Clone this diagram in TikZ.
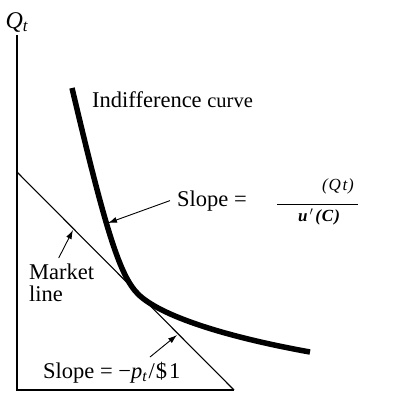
\documentclass[tikz,border=0pt]{standalone}
\usepackage{fontspec}
\setmainfont{Liberation Serif}
\usetikzlibrary{positioning,arrows.meta,calc}

\tikzset{
  axis/.style={line width=1.2pt},
  mline/.style={line width=1.1pt},
  icurve/.style={line width=5.5pt},
  pointer/.style={-{Latex[length=9pt,width=6pt]}, line width=0.9pt},
  lbl/.style={font=\fontsize{22.5}{22}\selectfont, inner sep=0pt},
  fracpart/.style={font=\fontsize{17}{19}\selectfont\itshape, inner sep=0pt},
}

\begin{document}
\begin{tikzpicture}[x=1pt, y=-1pt]
    \useasboundingbox (0,0) rectangle (406,392);
    %
    \node[coordinate] (O)    at (17,390) {};
    \node[coordinate] (ytop) at (17,35)  {};
    \node[coordinate] (xend) at (234,390) {};
    \node[lbl, font=\fontsize{24}{26}\selectfont] (Qlab) at (17,22)
        {\textit{Q}\textsubscript{\textit{t}}};
    \draw[axis] (ytop) -- (O) -- (xend);
    %
    \node[coordinate] (mA) at (17,172) {};
    \draw[mline] (mA) -- (xend);
    %
    % indifference curve, touching the market line at (T)
    \node[coordinate] (cTop) at (72,88)   {};
    \node[coordinate] (T)    at (138,294) {};
    \node[coordinate] (cEnd) at (310,352) {};
    \draw[icurve] (cTop) .. controls (106,232) and (120,276) .. (T)
                         .. controls (160,316) and (226.4,337) .. (cEnd);
    %
    \node[lbl, anchor=west] (indiff) at (92,100)
        {Indifference {\fontsize{20.5}{21}\selectfont curve}};
    %
    \node[lbl, anchor=base west] (slopeA) at (177,206) {Slope =};
    \node[fracpart] (num) at (338,186) {(\kern1pt Q\kern1.5pt t\kern1pt)};
    \node[fracpart, font=\fontsize{17}{19}\selectfont\bfseries\itshape] (den) at (319,217)
        {u\kern2pt$'$\kern2pt(\kern1pt C\kern1pt)};
    \node[coordinate] (fracL) at (277,204) {};
    \node[coordinate] (fracR) at (358,204) {};
    \draw[line width=0.8pt] (fracL) -- (fracR);
    \node[coordinate] (tipA) at (108,223) {};
    \draw[pointer] ([xshift=-7pt]slopeA.west) -- (tipA);
    %
    \node[lbl, align=left, anchor=north west] (mkt) at (29,264) {Market\\line};
    \node[coordinate] (tipB) at (73,230) {};
    \draw[pointer] ([xshift=-3pt, yshift=6pt]mkt.north) -- (tipB);
    %
    \node[lbl, anchor=base west] (slopeB) at (43,378)
        {Slope = −\textit{p}\textsubscript{\textit{t}}\kern1pt/\kern1pt\$\kern2pt 1};
    \node[coordinate] (tailC) at (150,357) {};
    \node[coordinate] (tipC)  at (177,335) {};
    \draw[pointer] (tailC) -- (tipC);
\end{tikzpicture}
\end{document}
